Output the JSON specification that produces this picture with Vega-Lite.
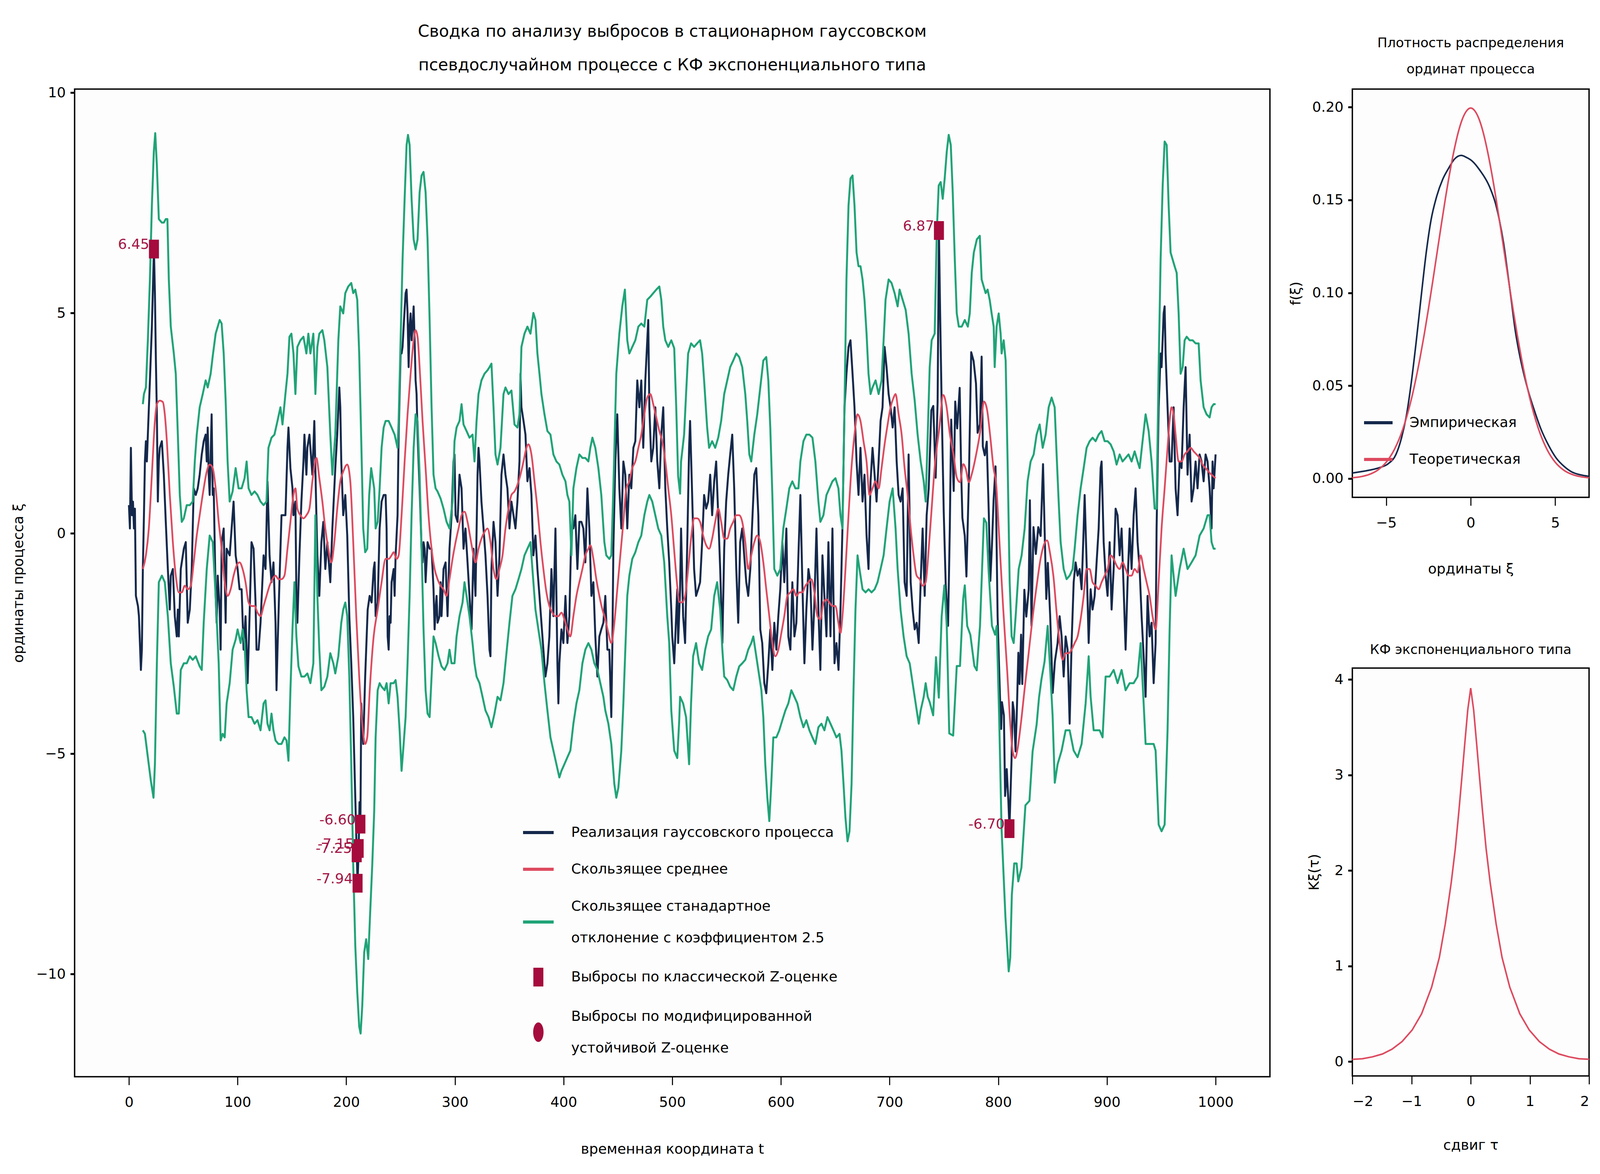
{
"$schema": "https://vega.github.io/schema/vega-lite/v6.json",
"background": "white",
"padding": {"left": 27, "top": 58, "right": 10, "bottom": 10},
"bounds": "flush",
"spacing": 211,
"config": {
"font": "DejaVu Sans",
"view": {"stroke": "black", "strokeWidth": 3.5, "fill": "#fdfdfd"},
"axis": {"domain": false, "grid": false, "ticks": true, "tickColor": "black", "labelFont": "DejaVu Sans", "labelFontSize": 36, "labelColor": "black", "titleFont": "DejaVu Sans", "titleFontSize": 36, "titleFontWeight": "normal", "titleColor": "black"},
"axisX": {"tickSize": 21, "tickWidth": 2.7, "labelPadding": 27},
"axisY": {"tickSize": 11, "tickWidth": 5, "labelPadding": 12},
"title": {"font": "DejaVu Sans", "fontWeight": "normal", "color": "black"},
"legend": {"labelFont": "DejaVu Sans", "labelColor": "black"}
},
"resolve": {"scale": {"color": "independent"}},
"datasets": {
"proc": [{"t":0,"v":0.64},{"t":0.9,"v":0.11},{"t":1.8,"v":1.94},{"t":2.8,"v":0.41},{"t":3.7,"v":0.72},{"t":4.6,"v":0.11},{"t":5.5,"v":0.56},{"t":6.4,"v":-1.42},{"t":8.3,"v":-1.65},{"t":9.2,"v":-1.88},{"t":10.1,"v":-2.49},{"t":11,"v":-3.1},{"t":11.9,"v":-2.64},{"t":12.8,"v":-0.81},{"t":13.8,"v":0.41},{"t":14.7,"v":1.63},{"t":15.6,"v":2.09},{"t":16.5,"v":1.63},{"t":17.4,"v":2.24},{"t":19.3,"v":3.47},{"t":21.1,"v":4.69},{"t":23,"v":6.45},{"t":23.9,"v":5.45},{"t":24.8,"v":3.92},{"t":25.7,"v":2.7},{"t":26.6,"v":0.72},{"t":27.5,"v":1.63},{"t":28.4,"v":1.94},{"t":30.3,"v":2.09},{"t":32.1,"v":1.33},{"t":33.9,"v":0.26},{"t":35.8,"v":-0.81},{"t":37.6,"v":-1.73},{"t":38.5,"v":-0.96},{"t":40.4,"v":-0.81},{"t":42.2,"v":-1.88},{"t":44,"v":-2.34},{"t":45,"v":-1.73},{"t":45.9,"v":-2.34},{"t":47.7,"v":-0.81},{"t":50.5,"v":-0.35},{"t":52.3,"v":-0.2},{"t":54.1,"v":-2.03},{"t":56,"v":-1.73},{"t":57.8,"v":-0.81},{"t":59.6,"v":1.02},{"t":61.5,"v":0.87},{"t":63.3,"v":1.02},{"t":65.1,"v":1.33},{"t":67,"v":1.79},{"t":68.8,"v":2.09},{"t":70.6,"v":2.24},{"t":71.6,"v":1.63},{"t":72.5,"v":2.4},{"t":73.4,"v":1.33},{"t":74.3,"v":0.87},{"t":76.1,"v":2.7},{"t":77.1,"v":0.87},{"t":78,"v":1.02},{"t":79.8,"v":-1.42},{"t":80.7,"v":-2.03},{"t":81.7,"v":-0.96},{"t":83.5,"v":-1.73},{"t":84.4,"v":-2.64},{"t":85.3,"v":-0.2},{"t":87.2,"v":0.11},{"t":89,"v":-2.03},{"t":89.9,"v":-0.35},{"t":92.7,"v":-0.5},{"t":94.5,"v":0.11},{"t":96.3,"v":0.72},{"t":98.2,"v":-0.5},{"t":100,"v":-0.81},{"t":101.8,"v":-1.27},{"t":103.7,"v":-1.27},{"t":105.5,"v":-2.64},{"t":107.3,"v":-1.88},{"t":109.2,"v":-3.4},{"t":111,"v":-1.88},{"t":112.8,"v":-0.2},{"t":114.7,"v":-0.35},{"t":116.5,"v":-1.57},{"t":117.4,"v":-2.64},{"t":119.3,"v":-2.64},{"t":121.1,"v":-2.03},{"t":123.9,"v":-0.5},{"t":125.7,"v":-0.81},{"t":127.5,"v":1.18},{"t":129.4,"v":-0.5},{"t":131.2,"v":-1.11},{"t":133,"v":-0.66},{"t":134.9,"v":-2.03},{"t":135.8,"v":-3.56},{"t":136.7,"v":-2.64},{"t":138.5,"v":-1.11},{"t":140.4,"v":0.41},{"t":142.2,"v":0.41},{"t":144,"v":0.41},{"t":145.9,"v":1.94},{"t":146.8,"v":2.4},{"t":148.6,"v":1.48},{"t":150.5,"v":1.02},{"t":151.4,"v":0.41},{"t":153.2,"v":0.72},{"t":154.1,"v":-1.42},{"t":155,"v":-2.03},{"t":156.9,"v":-0.5},{"t":158.7,"v":0.72},{"t":160.6,"v":1.63},{"t":161.5,"v":2.24},{"t":163.3,"v":1.33},{"t":164.2,"v":1.94},{"t":166.1,"v":2.24},{"t":168.8,"v":1.33},{"t":170.6,"v":2.55},{"t":172.5,"v":0.41},{"t":173.4,"v":-0.5},{"t":175.2,"v":-1.42},{"t":177.1,"v":-0.2},{"t":178.9,"v":0.26},{"t":180.7,"v":-0.81},{"t":182.6,"v":-0.2},{"t":185.3,"v":-1.11},{"t":187.2,"v":0.11},{"t":189.9,"v":1.48},{"t":191.7,"v":2.24},{"t":193.6,"v":3.31},{"t":194.5,"v":2.86},{"t":195.4,"v":1.63},{"t":197.2,"v":0.41},{"t":199.1,"v":0.87},{"t":200.9,"v":-0.05},{"t":202.8,"v":-1.88},{"t":204.6,"v":-2.95},{"t":206.4,"v":-4.17},{"t":208.3,"v":-6},{"t":209.6,"v":-7.25},{"t":210.4,"v":-7.94},{"t":211.4,"v":-7.15},{"t":212.2,"v":-6.1},{"t":213,"v":-6.6},{"t":213.8,"v":-3.86},{"t":215.6,"v":-4.78},{"t":217.4,"v":-3.25},{"t":219.7,"v":-1.73},{"t":221.5,"v":-1.42},{"t":223.3,"v":-1.57},{"t":225.2,"v":-0.81},{"t":226.1,"v":-0.66},{"t":227,"v":-1.88},{"t":228.9,"v":-1.57},{"t":230.7,"v":0.11},{"t":232.5,"v":0.72},{"t":234.4,"v":0.87},{"t":236.2,"v":0.87},{"t":237.1,"v":0.11},{"t":238.1,"v":-2.34},{"t":239,"v":-2.64},{"t":239.9,"v":-1.88},{"t":240.8,"v":-2.03},{"t":241.7,"v":-1.11},{"t":243.6,"v":-0.81},{"t":244.5,"v":-1.42},{"t":245.4,"v":-0.5},{"t":247.2,"v":0.41},{"t":248.2,"v":2.24},{"t":249.1,"v":3.16},{"t":250,"v":4.08},{"t":250.9,"v":4.08},{"t":251.8,"v":4.23},{"t":252.8,"v":4.69},{"t":254.6,"v":5.45},{"t":255.5,"v":5.53},{"t":256.4,"v":4.99},{"t":257.4,"v":3.77},{"t":258.3,"v":4.69},{"t":259.2,"v":4.99},{"t":260.1,"v":4.38},{"t":261,"v":4.69},{"t":262,"v":5.15},{"t":262.9,"v":4.38},{"t":263.8,"v":3.47},{"t":264.7,"v":3.16},{"t":265.6,"v":2.24},{"t":267.5,"v":1.02},{"t":269.3,"v":-0.35},{"t":270.2,"v":-0.66},{"t":271.1,"v":-0.2},{"t":272.1,"v":-0.35},{"t":273,"v":-1.11},{"t":274.8,"v":-0.2},{"t":276.7,"v":-0.35},{"t":278.5,"v":-0.35},{"t":280.3,"v":-1.27},{"t":281.3,"v":-2.18},{"t":282.2,"v":-1.73},{"t":283.1,"v":-1.42},{"t":284,"v":-2.03},{"t":285.8,"v":-1.88},{"t":286.8,"v":-1.11},{"t":287.7,"v":-1.88},{"t":289.5,"v":-0.81},{"t":291.4,"v":-0.66},{"t":293.2,"v":-1.88},{"t":295,"v":-0.35},{"t":296.9,"v":0.41},{"t":298.7,"v":1.63},{"t":299.6,"v":1.79},{"t":300.6,"v":0.41},{"t":302.4,"v":0.26},{"t":304.2,"v":1.33},{"t":306.1,"v":1.02},{"t":307.9,"v":-0.35},{"t":309.7,"v":0.11},{"t":311.6,"v":-0.66},{"t":313.4,"v":-1.42},{"t":315.3,"v":-2.18},{"t":317.1,"v":-0.35},{"t":318.9,"v":-1.42},{"t":320.8,"v":1.33},{"t":321.7,"v":1.94},{"t":322.6,"v":1.63},{"t":324.4,"v":0.72},{"t":326.3,"v":0.11},{"t":328.1,"v":-0.5},{"t":330,"v":-1.42},{"t":331.8,"v":-2.64},{"t":332.7,"v":-2.79},{"t":333.6,"v":-0.81},{"t":335.5,"v":0.26},{"t":337.3,"v":-0.2},{"t":339.2,"v":-1.42},{"t":341,"v":-0.5},{"t":342.8,"v":1.33},{"t":344.7,"v":1.79},{"t":346.5,"v":1.33},{"t":348.3,"v":1.02},{"t":350.2,"v":0.11},{"t":352,"v":0.72},{"t":353.9,"v":0.41},{"t":355.7,"v":0.11},{"t":357.5,"v":0.72},{"t":359.4,"v":1.63},{"t":360.3,"v":3.62},{"t":361.2,"v":2.86},{"t":363.1,"v":2.55},{"t":364.9,"v":2.24},{"t":366.7,"v":1.18},{"t":368.6,"v":1.48},{"t":370.4,"v":0.87},{"t":372.2,"v":-0.5},{"t":374.1,"v":-0.05},{"t":375.9,"v":-0.81},{"t":377.8,"v":-1.42},{"t":379.6,"v":-2.03},{"t":381.4,"v":-2.64},{"t":383.3,"v":-3.25},{"t":385.1,"v":-2.95},{"t":386.9,"v":-2.34},{"t":388.8,"v":-0.81},{"t":390.6,"v":-1.88},{"t":392.5,"v":0.11},{"t":394.3,"v":-2.95},{"t":395.2,"v":-3.86},{"t":396.1,"v":-2.95},{"t":398,"v":-2.18},{"t":399.8,"v":-2.49},{"t":401.7,"v":-1.42},{"t":403.5,"v":-2.49},{"t":405.3,"v":-1.88},{"t":407.2,"v":0.11},{"t":409,"v":0.11},{"t":410.8,"v":0.41},{"t":412.7,"v":-0.81},{"t":414.5,"v":0.26},{"t":416.4,"v":0.26},{"t":418.2,"v":0.11},{"t":420,"v":-0.66},{"t":421.9,"v":1.02},{"t":423.7,"v":0.11},{"t":425.6,"v":-1.42},{"t":427.4,"v":-1.11},{"t":429.2,"v":-2.34},{"t":431.1,"v":-3.25},{"t":432.9,"v":-2.34},{"t":434.7,"v":-2.18},{"t":436.6,"v":-2.03},{"t":438.4,"v":-1.42},{"t":440.3,"v":-2.64},{"t":442.1,"v":-2.64},{"t":443.9,"v":-4.17},{"t":444.9,"v":-2.49},{"t":445.8,"v":-0.35},{"t":447.6,"v":1.63},{"t":449.4,"v":2.7},{"t":451.3,"v":1.02},{"t":453.1,"v":0.11},{"t":455,"v":1.63},{"t":456.8,"v":1.33},{"t":458.6,"v":0.11},{"t":460.5,"v":1.33},{"t":462.3,"v":1.02},{"t":464.2,"v":1.94},{"t":466,"v":2.09},{"t":467.8,"v":3.47},{"t":468.8,"v":3.16},{"t":469.7,"v":2.86},{"t":471.5,"v":3.47},{"t":473.3,"v":1.94},{"t":475.2,"v":3.47},{"t":477,"v":4.38},{"t":477.9,"v":4.84},{"t":478.9,"v":2.86},{"t":480.7,"v":1.63},{"t":482.5,"v":1.94},{"t":484.4,"v":2.86},{"t":486.2,"v":1.63},{"t":488.1,"v":1.02},{"t":489.9,"v":2.24},{"t":491.7,"v":2.86},{"t":493.6,"v":1.02},{"t":495.4,"v":0.11},{"t":497.2,"v":-0.66},{"t":499.1,"v":-1.73},{"t":500,"v":-2.34},{"t":501.8,"v":-2.95},{"t":502.8,"v":-2.34},{"t":504.6,"v":-1.27},{"t":505.4,"v":-2.49},{"t":507.2,"v":-1.27},{"t":508.1,"v":0.11},{"t":510,"v":-1.88},{"t":511.8,"v":-2.49},{"t":513.7,"v":-0.35},{"t":515.5,"v":1.94},{"t":516.4,"v":2.55},{"t":518.3,"v":0.87},{"t":520.1,"v":-0.81},{"t":521.9,"v":-1.42},{"t":523.8,"v":-1.27},{"t":525.6,"v":-1.11},{"t":527.5,"v":-0.2},{"t":529.3,"v":0.87},{"t":531.2,"v":0.56},{"t":533,"v":0.72},{"t":534.9,"v":1.33},{"t":536.7,"v":0.41},{"t":538.6,"v":1.18},{"t":540.4,"v":1.63},{"t":542.3,"v":0.41},{"t":544.1,"v":-0.81},{"t":546.1,"v":-2.49},{"t":547.8,"v":-0.35},{"t":549.6,"v":0.72},{"t":551.5,"v":1.33},{"t":553.3,"v":1.79},{"t":555.2,"v":2.24},{"t":557,"v":1.02},{"t":558.9,"v":-0.81},{"t":560.7,"v":-2.03},{"t":562.5,"v":-0.2},{"t":564.4,"v":0.11},{"t":566.2,"v":-0.5},{"t":568.1,"v":-1.11},{"t":569.9,"v":-1.42},{"t":571.8,"v":-0.81},{"t":573.6,"v":0.26},{"t":575.5,"v":1.33},{"t":577.3,"v":1.48},{"t":579.2,"v":0.41},{"t":581,"v":-2.18},{"t":582.8,"v":-2.49},{"t":584.7,"v":-3.4},{"t":586.5,"v":-3.63},{"t":588.4,"v":-2.95},{"t":590.2,"v":-2.18},{"t":592.1,"v":-3.1},{"t":593.9,"v":-2.03},{"t":595.8,"v":-2.64},{"t":597.6,"v":-1.88},{"t":599.4,"v":-1.27},{"t":601.3,"v":-0.2},{"t":603.1,"v":-1.11},{"t":605,"v":0.11},{"t":606.8,"v":-2.34},{"t":608.7,"v":-2.64},{"t":610.5,"v":-1.11},{"t":612.4,"v":-2.34},{"t":614.2,"v":-2.03},{"t":616.1,"v":-0.5},{"t":617.9,"v":0.87},{"t":619.7,"v":-1.11},{"t":621.6,"v":-2.95},{"t":623.4,"v":-1.73},{"t":625.3,"v":-0.81},{"t":627.1,"v":-1.11},{"t":629,"v":-2.64},{"t":630.8,"v":-1.57},{"t":632.7,"v":0.11},{"t":634.5,"v":-1.73},{"t":636.3,"v":-3.1},{"t":638.2,"v":-0.5},{"t":640,"v":-1.42},{"t":641.9,"v":-2.34},{"t":643.7,"v":-0.2},{"t":645.6,"v":-2.34},{"t":647.4,"v":0.11},{"t":649.3,"v":-2.95},{"t":651.1,"v":-2.49},{"t":653,"v":-3.1},{"t":654.8,"v":-1.73},{"t":656.6,"v":0.11},{"t":658.5,"v":2.86},{"t":660.3,"v":3.62},{"t":662.2,"v":4.23},{"t":664,"v":4.38},{"t":665.9,"v":3.62},{"t":667.7,"v":2.86},{"t":669.6,"v":1.63},{"t":671.4,"v":0.87},{"t":673.2,"v":1.94},{"t":675.1,"v":0.72},{"t":676.9,"v":1.33},{"t":678.8,"v":-0.05},{"t":680.6,"v":-0.81},{"t":682.5,"v":1.18},{"t":684.3,"v":1.94},{"t":686.2,"v":1.33},{"t":688,"v":0.72},{"t":689.9,"v":1.63},{"t":691.7,"v":2.55},{"t":693.5,"v":2.86},{"t":695.4,"v":4.23},{"t":697.2,"v":3.77},{"t":699.1,"v":3.16},{"t":700.9,"v":2.86},{"t":702.8,"v":2.4},{"t":704.6,"v":2.86},{"t":706.5,"v":1.63},{"t":708.3,"v":0.87},{"t":710.1,"v":0.72},{"t":712,"v":1.02},{"t":713.8,"v":-1.11},{"t":715.7,"v":-1.42},{"t":717.5,"v":1.79},{"t":719.4,"v":-1.11},{"t":721.2,"v":-1.73},{"t":723.1,"v":-2.18},{"t":724.9,"v":-2.03},{"t":726.8,"v":-2.49},{"t":728.6,"v":-1.11},{"t":730.4,"v":0.11},{"t":732.3,"v":-1.42},{"t":734.1,"v":0.41},{"t":736,"v":1.02},{"t":738.4,"v":2.79},{"t":740.2,"v":2.89},{"t":742.4,"v":1.26},{"t":744.2,"v":3},{"t":745.4,"v":6.87},{"t":746.5,"v":5},{"t":748,"v":2.8},{"t":749.8,"v":0.5},{"t":751.7,"v":-1.2},{"t":753.8,"v":-2.1},{"t":755.4,"v":0.11},{"t":756.7,"v":2.58},{"t":759,"v":0.96},{"t":760.4,"v":2.99},{"t":762.2,"v":2.38},{"t":764.5,"v":3.3},{"t":765.9,"v":1.36},{"t":767,"v":0.35},{"t":769.2,"v":-0.06},{"t":770.7,"v":-0.98},{"t":772.9,"v":1.16},{"t":775.1,"v":4.11},{"t":777.3,"v":3.91},{"t":779.5,"v":3.4},{"t":781,"v":2.28},{"t":783.2,"v":2.48},{"t":784.7,"v":4.01},{"t":785.8,"v":1.97},{"t":787.6,"v":1.77},{"t":789.4,"v":2.08},{"t":791.3,"v":0.45},{"t":792.7,"v":-1.08},{"t":794.2,"v":-0.26},{"t":795.7,"v":0.75},{"t":797.5,"v":1.52},{"t":799.4,"v":-1.89},{"t":801.6,"v":-3.72},{"t":802.7,"v":-4.44},{"t":803.4,"v":-3.83},{"t":805.2,"v":-4.13},{"t":806.3,"v":-5.96},{"t":807.8,"v":-5.35},{"t":809.3,"v":-6.07},{"t":810.3,"v":-6.7},{"t":812.2,"v":-5.15},{"t":813.3,"v":-3.83},{"t":814.4,"v":-4.03},{"t":815.9,"v":-4.95},{"t":817,"v":-4.13},{"t":818.5,"v":-2.71},{"t":819.6,"v":-3.42},{"t":821,"v":-2.3},{"t":822.1,"v":-3.42},{"t":824,"v":-1.28},{"t":825.8,"v":-1.89},{"t":828,"v":-1.28},{"t":829.1,"v":0.75},{"t":830.6,"v":-2.1},{"t":832.4,"v":0.14},{"t":834.6,"v":-0.47},{"t":836.8,"v":0.14},{"t":839,"v":-0.06},{"t":841.2,"v":1.57},{"t":843.1,"v":-0.37},{"t":844.2,"v":-1.49},{"t":845.6,"v":-0.67},{"t":847.8,"v":-1.89},{"t":850.1,"v":-3.62},{"t":852.1,"v":-2.91},{"t":854.6,"v":-2.49},{"t":856.5,"v":-1.88},{"t":858.3,"v":-2.34},{"t":860.2,"v":-3.25},{"t":862,"v":-2.34},{"t":863.8,"v":-2.64},{"t":865.7,"v":-4.32},{"t":867.5,"v":-2.49},{"t":869.4,"v":-1.11},{"t":871.2,"v":-0.66},{"t":873,"v":-0.96},{"t":874.9,"v":-0.81},{"t":876.7,"v":-1.27},{"t":878.6,"v":0.11},{"t":879.5,"v":0.87},{"t":881.3,"v":-0.66},{"t":883.2,"v":-2.49},{"t":885,"v":-1.27},{"t":886.8,"v":-1.73},{"t":888.7,"v":-1.42},{"t":890.5,"v":-0.66},{"t":892.4,"v":0.11},{"t":894.2,"v":1.48},{"t":895.1,"v":1.63},{"t":897,"v":-0.2},{"t":898.8,"v":-0.96},{"t":900.6,"v":-1.42},{"t":902.5,"v":-0.2},{"t":904.3,"v":-1.73},{"t":906.2,"v":-0.81},{"t":908,"v":0.56},{"t":909.8,"v":0.41},{"t":911.7,"v":-0.5},{"t":913.5,"v":0.11},{"t":915.4,"v":-1.27},{"t":917.2,"v":-2.64},{"t":919,"v":-1.11},{"t":920.9,"v":0.11},{"t":922.7,"v":-0.81},{"t":924.6,"v":0.41},{"t":926.4,"v":1.02},{"t":928.2,"v":-0.2},{"t":930.1,"v":-0.81},{"t":931.9,"v":-1.88},{"t":933.8,"v":-2.79},{"t":935.6,"v":-3.71},{"t":937.4,"v":-1.42},{"t":939.3,"v":-2.34},{"t":941.1,"v":-2.03},{"t":943,"v":-3.4},{"t":944.8,"v":-2.49},{"t":945.7,"v":0.11},{"t":947.6,"v":2.86},{"t":949.4,"v":4.08},{"t":950.3,"v":3.77},{"t":952.2,"v":4.99},{"t":953.1,"v":5.15},{"t":954,"v":4.08},{"t":955.8,"v":2.86},{"t":957.7,"v":1.63},{"t":959.5,"v":1.63},{"t":961.4,"v":2.86},{"t":963.2,"v":1.02},{"t":965,"v":0.41},{"t":966.9,"v":1.63},{"t":968.7,"v":1.48},{"t":970.6,"v":2.86},{"t":972.4,"v":3.77},{"t":974.2,"v":1.33},{"t":976.1,"v":2.24},{"t":977.9,"v":0.72},{"t":979.8,"v":1.02},{"t":981.6,"v":1.63},{"t":983.4,"v":1.02},{"t":985.3,"v":1.79},{"t":987.1,"v":1.63},{"t":989,"v":1.18},{"t":990.8,"v":1.79},{"t":992.6,"v":1.63},{"t":994.5,"v":1.02},{"t":996.3,"v":0.11},{"t":997.2,"v":1.63},{"t":998.2,"v":1.02},{"t":1000,"v":1.79}],
"mean": [{"t":12.8,"v":-0.81},{"t":15.6,"v":-0.5},{"t":18.3,"v":0.11},{"t":21.1,"v":1.33},{"t":23.9,"v":2.55},{"t":25.7,"v":2.93},{"t":28.4,"v":3.01},{"t":31.2,"v":2.98},{"t":33,"v":2.7},{"t":34.9,"v":2.09},{"t":37.6,"v":0.87},{"t":40.4,"v":-0.2},{"t":43.1,"v":-0.96},{"t":45.9,"v":-1.34},{"t":48.6,"v":-1.34},{"t":51.4,"v":-1.19},{"t":54.1,"v":-1.27},{"t":56.9,"v":-1.19},{"t":59.6,"v":-0.66},{"t":62.4,"v":-0.05},{"t":65.1,"v":0.41},{"t":68.8,"v":1.02},{"t":71.6,"v":1.4},{"t":74.3,"v":1.56},{"t":77.1,"v":1.48},{"t":79.8,"v":1.02},{"t":82.6,"v":0.26},{"t":85.3,"v":-0.35},{"t":88.1,"v":-1.11},{"t":90.8,"v":-1.42},{"t":93.6,"v":-1.27},{"t":96.3,"v":-0.96},{"t":99.1,"v":-0.73},{"t":101.8,"v":-0.66},{"t":104.6,"v":-0.81},{"t":107.3,"v":-1.11},{"t":110.1,"v":-1.57},{"t":112.8,"v":-1.65},{"t":115.6,"v":-1.65},{"t":118.3,"v":-1.8},{"t":121.1,"v":-1.88},{"t":123.9,"v":-1.65},{"t":126.6,"v":-1.42},{"t":129.4,"v":-1.19},{"t":132.1,"v":-1.04},{"t":134.9,"v":-0.96},{"t":137.6,"v":-1.04},{"t":140.4,"v":-1.04},{"t":143.1,"v":-0.96},{"t":145.9,"v":-0.35},{"t":148.6,"v":0.26},{"t":151.4,"v":0.87},{"t":153.2,"v":1.02},{"t":155,"v":0.56},{"t":157.8,"v":0.41},{"t":160.6,"v":0.34},{"t":163.3,"v":0.41},{"t":166.1,"v":0.56},{"t":168.8,"v":1.18},{"t":172.5,"v":1.71},{"t":175.2,"v":1.25},{"t":178,"v":0.72},{"t":180.7,"v":0.11},{"t":183.5,"v":-0.35},{"t":186.2,"v":-0.66},{"t":189,"v":-0.2},{"t":191.7,"v":0.56},{"t":194.5,"v":1.18},{"t":197.2,"v":1.4},{"t":200.9,"v":1.56},{"t":203.7,"v":1.18},{"t":206.4,"v":-0.2},{"t":209.2,"v":-1.88},{"t":211.9,"v":-3.25},{"t":214.7,"v":-4.32},{"t":217.4,"v":-4.78},{"t":219.3,"v":-4.63},{"t":221.5,"v":-3.6},{"t":225.2,"v":-2.34},{"t":228.9,"v":-1.73},{"t":232.5,"v":-1.11},{"t":236.2,"v":-0.58},{"t":239,"v":-0.58},{"t":241.7,"v":-0.5},{"t":243.6,"v":-0.43},{"t":246.3,"v":-0.58},{"t":248.2,"v":-0.5},{"t":250.9,"v":0.41},{"t":253.7,"v":1.63},{"t":256.4,"v":2.7},{"t":259.2,"v":3.62},{"t":262,"v":4.38},{"t":263.8,"v":4.61},{"t":265.6,"v":4.46},{"t":267.5,"v":3.77},{"t":270.2,"v":2.55},{"t":273,"v":1.48},{"t":275.7,"v":0.41},{"t":278.5,"v":-0.35},{"t":281.3,"v":-0.81},{"t":284,"v":-1.04},{"t":286.8,"v":-1.19},{"t":289.5,"v":-1.27},{"t":292.3,"v":-1.42},{"t":295,"v":-1.04},{"t":297.8,"v":-0.58},{"t":300.6,"v":-0.2},{"t":303.3,"v":0.11},{"t":306.1,"v":0.41},{"t":308.8,"v":0.49},{"t":311.6,"v":0.26},{"t":314.3,"v":-0.12},{"t":317.1,"v":-0.5},{"t":318.9,"v":-0.66},{"t":321.7,"v":-0.35},{"t":324.4,"v":-0.12},{"t":327.2,"v":0.03},{"t":330,"v":0.11},{"t":332.7,"v":-0.2},{"t":335.5,"v":-0.81},{"t":338.2,"v":-1.04},{"t":341,"v":-0.81},{"t":343.8,"v":-0.5},{"t":346.5,"v":0.11},{"t":349.3,"v":0.56},{"t":352,"v":0.87},{"t":354.8,"v":0.95},{"t":357.5,"v":1.1},{"t":360.3,"v":1.33},{"t":363.1,"v":1.63},{"t":365.8,"v":1.94},{"t":367.6,"v":2.02},{"t":370.4,"v":1.79},{"t":373.2,"v":1.18},{"t":375.9,"v":0.56},{"t":378.7,"v":-0.2},{"t":381.4,"v":-0.81},{"t":384.2,"v":-1.34},{"t":386.9,"v":-1.65},{"t":389.7,"v":-1.8},{"t":392.5,"v":-1.88},{"t":395.2,"v":-1.88},{"t":398,"v":-1.8},{"t":400.7,"v":-1.95},{"t":403.5,"v":-2.18},{"t":406.2,"v":-2.34},{"t":409,"v":-1.88},{"t":411.8,"v":-1.42},{"t":414.5,"v":-1.11},{"t":417.3,"v":-0.81},{"t":420,"v":-0.5},{"t":422.8,"v":-0.35},{"t":424.6,"v":-0.27},{"t":427.4,"v":-0.58},{"t":430.1,"v":-1.04},{"t":432.9,"v":-1.42},{"t":435.7,"v":-1.73},{"t":438.4,"v":-1.95},{"t":441.2,"v":-2.26},{"t":443.9,"v":-2.49},{"t":446.7,"v":-2.03},{"t":449.4,"v":-1.27},{"t":452.2,"v":-0.5},{"t":455,"v":0.26},{"t":457.7,"v":1.02},{"t":460.5,"v":1.18},{"t":463.2,"v":1.48},{"t":466,"v":1.63},{"t":468.8,"v":1.94},{"t":471.5,"v":2.24},{"t":474.3,"v":2.7},{"t":477,"v":3.08},{"t":479.8,"v":3.16},{"t":482.5,"v":2.93},{"t":485.3,"v":2.63},{"t":488.1,"v":2.32},{"t":490.8,"v":2.09},{"t":493.6,"v":1.63},{"t":496.3,"v":1.02},{"t":499.1,"v":0.41},{"t":501.8,"v":-0.4},{"t":504.6,"v":-1.2},{"t":506.3,"v":-1.55},{"t":509,"v":-1.57},{"t":511.8,"v":-1.42},{"t":514.6,"v":-0.81},{"t":517.3,"v":-0.12},{"t":520.1,"v":0.34},{"t":522.9,"v":0.34},{"t":525.6,"v":0.26},{"t":528.4,"v":-0.05},{"t":531.2,"v":-0.27},{"t":533.9,"v":-0.35},{"t":536.7,"v":-0.12},{"t":539.5,"v":0.26},{"t":542.3,"v":0.56},{"t":545,"v":0.26},{"t":547.8,"v":-0.12},{"t":550.6,"v":-0.12},{"t":553.3,"v":0.11},{"t":556.1,"v":0.26},{"t":558.9,"v":0.41},{"t":561.6,"v":0.41},{"t":564.4,"v":0.26},{"t":567.2,"v":-0.2},{"t":569.9,"v":-0.81},{"t":572.7,"v":-0.5},{"t":575.5,"v":-0.2},{"t":578.2,"v":-0.05},{"t":581,"v":-0.2},{"t":583.8,"v":-0.66},{"t":586.5,"v":-1.27},{"t":589.3,"v":-1.88},{"t":592.1,"v":-2.49},{"t":594.8,"v":-2.79},{"t":597.6,"v":-2.64},{"t":600.4,"v":-2.26},{"t":603.1,"v":-1.88},{"t":605.9,"v":-1.42},{"t":608.7,"v":-1.34},{"t":611.4,"v":-1.27},{"t":614.2,"v":-1.42},{"t":617,"v":-1.34},{"t":619.7,"v":-1.34},{"t":622.5,"v":-1.19},{"t":625.3,"v":-1.11},{"t":628,"v":-1.04},{"t":630.8,"v":-1.34},{"t":633.6,"v":-1.88},{"t":636.3,"v":-1.95},{"t":639.1,"v":-1.57},{"t":641.9,"v":-1.5},{"t":644.6,"v":-1.57},{"t":647.4,"v":-1.65},{"t":650.2,"v":-1.65},{"t":652.9,"v":-2.03},{"t":654.8,"v":-2.26},{"t":656.6,"v":-1.88},{"t":659.4,"v":-0.81},{"t":662.2,"v":0.41},{"t":664.9,"v":1.48},{"t":667.7,"v":2.24},{"t":670.5,"v":2.7},{"t":673.2,"v":2.55},{"t":676,"v":2.09},{"t":678.8,"v":1.63},{"t":681.5,"v":0.87},{"t":684.3,"v":1.02},{"t":687.1,"v":1.18},{"t":689.9,"v":1.02},{"t":692.6,"v":1.48},{"t":695.4,"v":2.02},{"t":698.2,"v":2.47},{"t":700.9,"v":2.86},{"t":703.7,"v":3.08},{"t":705.5,"v":3.16},{"t":708.3,"v":2.7},{"t":711.1,"v":2.24},{"t":713.8,"v":1.48},{"t":716.6,"v":0.87},{"t":719.4,"v":0.11},{"t":722.1,"v":-0.5},{"t":724.9,"v":-0.96},{"t":727.7,"v":-1.04},{"t":730.4,"v":-1.19},{"t":733.2,"v":-1.11},{"t":736,"v":-0.35},{"t":738.7,"v":0.56},{"t":741.5,"v":1.5},{"t":745.7,"v":2.38},{"t":749.4,"v":3.14},{"t":752.3,"v":2.89},{"t":755.3,"v":2.28},{"t":758.9,"v":1.77},{"t":761.9,"v":1.26},{"t":764.8,"v":1.16},{"t":767.8,"v":1.57},{"t":770,"v":1.47},{"t":772.9,"v":1.16},{"t":775.8,"v":1.36},{"t":779.5,"v":1.77},{"t":783.2,"v":2.28},{"t":786.9,"v":2.99},{"t":789.8,"v":2.79},{"t":792.7,"v":2.18},{"t":795.7,"v":1.47},{"t":797.9,"v":1.16},{"t":800.8,"v":-0.06},{"t":804.5,"v":-1.69},{"t":808.2,"v":-3.11},{"t":811.1,"v":-4.34},{"t":813.3,"v":-4.95},{"t":815.5,"v":-5.1},{"t":817.7,"v":-4.9},{"t":820.7,"v":-4.34},{"t":824.3,"v":-3.52},{"t":828,"v":-2.71},{"t":831.7,"v":-1.89},{"t":835.4,"v":-1.18},{"t":839,"v":-0.57},{"t":842,"v":-0.26},{"t":844.9,"v":-0.16},{"t":847.8,"v":-0.47},{"t":850.8,"v":-0.98},{"t":853.7,"v":-1.8},{"t":856.5,"v":-2.49},{"t":859.2,"v":-2.87},{"t":862,"v":-2.72},{"t":864.8,"v":-2.72},{"t":867.5,"v":-2.64},{"t":870.3,"v":-2.49},{"t":873,"v":-2.34},{"t":875.8,"v":-1.95},{"t":878.6,"v":-1.42},{"t":881.3,"v":-0.81},{"t":884.1,"v":-0.81},{"t":886.8,"v":-1.11},{"t":889.6,"v":-1.19},{"t":892.4,"v":-1.27},{"t":895.1,"v":-1.11},{"t":897.9,"v":-0.96},{"t":900.6,"v":-0.81},{"t":903.4,"v":-0.5},{"t":906.2,"v":-0.58},{"t":908.9,"v":-0.73},{"t":911.7,"v":-0.81},{"t":914.4,"v":-0.66},{"t":917.2,"v":-0.81},{"t":919.9,"v":-0.96},{"t":922.7,"v":-0.96},{"t":925.5,"v":-0.81},{"t":928.2,"v":-0.89},{"t":931,"v":-0.5},{"t":933.8,"v":-0.81},{"t":936.5,"v":-1.11},{"t":939.3,"v":-1.42},{"t":942,"v":-1.88},{"t":944.8,"v":-2.18},{"t":947.6,"v":-1.11},{"t":950.3,"v":0.11},{"t":953.1,"v":1.02},{"t":955.8,"v":1.94},{"t":957.7,"v":2.55},{"t":959.5,"v":2.86},{"t":961.4,"v":2.7},{"t":963.2,"v":2.24},{"t":966,"v":1.63},{"t":968.7,"v":1.63},{"t":971.5,"v":1.79},{"t":974.2,"v":1.86},{"t":977,"v":1.94},{"t":979.8,"v":1.86},{"t":982.5,"v":1.79},{"t":985.3,"v":1.71},{"t":988,"v":1.56},{"t":990.8,"v":1.48},{"t":993.5,"v":1.4},{"t":996.3,"v":1.33},{"t":1000,"v":1.25}],
"up": [{"t":12.8,"v":2.93},{"t":13.8,"v":3.16},{"t":15.6,"v":3.31},{"t":17.4,"v":4.38},{"t":19.3,"v":5.76},{"t":21.1,"v":7.44},{"t":22.9,"v":8.66},{"t":24.2,"v":9.08},{"t":25.7,"v":8.35},{"t":27.5,"v":7.13},{"t":30.3,"v":7.05},{"t":32.1,"v":7.05},{"t":33.9,"v":7.13},{"t":35.4,"v":7.13},{"t":36.7,"v":5.76},{"t":38.5,"v":4.69},{"t":41.3,"v":4.08},{"t":43.1,"v":3.62},{"t":45,"v":2.24},{"t":46.8,"v":0.87},{"t":48.6,"v":0.26},{"t":50.5,"v":0.34},{"t":53.2,"v":0.64},{"t":56,"v":0.64},{"t":58.7,"v":0.72},{"t":60.6,"v":1.63},{"t":62.4,"v":2.24},{"t":65.1,"v":2.86},{"t":67.9,"v":3.16},{"t":70.6,"v":3.47},{"t":72.5,"v":3.31},{"t":75.2,"v":3.62},{"t":77.1,"v":4.02},{"t":79.8,"v":4.53},{"t":83.5,"v":4.84},{"t":85.3,"v":4.76},{"t":87.2,"v":4.08},{"t":89,"v":3.01},{"t":90.8,"v":1.63},{"t":92.7,"v":0.72},{"t":95.4,"v":0.95},{"t":98.2,"v":1.48},{"t":100.9,"v":1.02},{"t":103.7,"v":1.02},{"t":106.4,"v":1.25},{"t":108.3,"v":1.63},{"t":110.1,"v":1.02},{"t":112.8,"v":0.87},{"t":115.6,"v":0.95},{"t":118.3,"v":0.87},{"t":121.1,"v":0.72},{"t":123.9,"v":0.64},{"t":126.6,"v":0.72},{"t":128.4,"v":1.94},{"t":131.2,"v":2.17},{"t":133.9,"v":2.24},{"t":136.7,"v":2.55},{"t":139.4,"v":2.86},{"t":141.3,"v":2.47},{"t":144,"v":3.16},{"t":145.9,"v":3.62},{"t":147.7,"v":4.46},{"t":149.5,"v":4.53},{"t":151.4,"v":4.08},{"t":153.2,"v":3.16},{"t":155,"v":4.23},{"t":157.8,"v":4.38},{"t":160.6,"v":4.46},{"t":163.3,"v":4.08},{"t":165.1,"v":4.53},{"t":167,"v":4.08},{"t":169.7,"v":4.53},{"t":171.6,"v":3.16},{"t":173.4,"v":4.23},{"t":175.2,"v":4.53},{"t":178,"v":4.61},{"t":179.8,"v":4.38},{"t":182.6,"v":3.77},{"t":185.3,"v":2.24},{"t":187.2,"v":1.33},{"t":189.9,"v":2.24},{"t":192.7,"v":4.38},{"t":194.5,"v":5.15},{"t":197.2,"v":4.99},{"t":199.1,"v":5.45},{"t":201.8,"v":5.6},{"t":204.6,"v":5.68},{"t":206.4,"v":5.45},{"t":208.3,"v":5.53},{"t":210.1,"v":5.3},{"t":211.9,"v":4.08},{"t":213.8,"v":2.09},{"t":215.6,"v":0.11},{"t":217.4,"v":-0.43},{"t":219.3,"v":-0.35},{"t":221.1,"v":0.87},{"t":222.9,"v":1.48},{"t":225.7,"v":1.02},{"t":227,"v":0.11},{"t":228.9,"v":0.26},{"t":230.7,"v":1.02},{"t":232.5,"v":1.94},{"t":234.4,"v":2.4},{"t":236.2,"v":2.55},{"t":239,"v":2.55},{"t":241.7,"v":2.4},{"t":244.5,"v":2.24},{"t":247.2,"v":1.94},{"t":248.2,"v":2.55},{"t":250,"v":4.38},{"t":251.8,"v":6.21},{"t":253.7,"v":7.59},{"t":255.5,"v":8.81},{"t":256.8,"v":9.04},{"t":258.3,"v":8.81},{"t":260.1,"v":7.59},{"t":262,"v":6.67},{"t":263.8,"v":6.44},{"t":265.6,"v":6.67},{"t":267.5,"v":7.74},{"t":269.3,"v":8.12},{"t":271.1,"v":8.2},{"t":273,"v":7.74},{"t":274.8,"v":6.67},{"t":276.7,"v":4.84},{"t":278.5,"v":2.86},{"t":280.3,"v":1.33},{"t":282.2,"v":1.02},{"t":284,"v":0.95},{"t":286.8,"v":0.79},{"t":289.5,"v":0.56},{"t":292.3,"v":0.26},{"t":295,"v":0.11},{"t":297.8,"v":0.72},{"t":299.6,"v":2.09},{"t":301.5,"v":2.4},{"t":304.2,"v":2.55},{"t":306.1,"v":2.93},{"t":307.9,"v":2.47},{"t":310.7,"v":2.32},{"t":313.4,"v":2.17},{"t":316.2,"v":2.24},{"t":318,"v":1.63},{"t":319.9,"v":2.55},{"t":321.7,"v":3.16},{"t":324.4,"v":3.47},{"t":327.2,"v":3.62},{"t":330,"v":3.7},{"t":331.8,"v":3.77},{"t":333.6,"v":3.85},{"t":335.5,"v":2.86},{"t":337.3,"v":1.79},{"t":339.2,"v":1.56},{"t":341.9,"v":1.94},{"t":344.7,"v":3.16},{"t":346.5,"v":3.31},{"t":349.3,"v":3.16},{"t":352,"v":3.24},{"t":354.8,"v":2.47},{"t":357.5,"v":2.4},{"t":359.4,"v":2.7},{"t":361.2,"v":4.23},{"t":364,"v":4.53},{"t":366.7,"v":4.69},{"t":369.5,"v":4.53},{"t":372.2,"v":5},{"t":374.1,"v":4.84},{"t":375.9,"v":4.08},{"t":377.8,"v":3.62},{"t":379.6,"v":3.16},{"t":382.4,"v":2.7},{"t":385.1,"v":2.32},{"t":387.9,"v":2.24},{"t":390.6,"v":1.79},{"t":393.4,"v":1.63},{"t":396.1,"v":1.56},{"t":398.9,"v":1.33},{"t":401.7,"v":1.18},{"t":403.5,"v":0.87},{"t":405.3,"v":0.72},{"t":407.2,"v":-0.5},{"t":409,"v":1.02},{"t":411.8,"v":1.48},{"t":414.5,"v":1.79},{"t":417.3,"v":1.71},{"t":420,"v":1.71},{"t":422.8,"v":1.63},{"t":424.6,"v":1.94},{"t":426.5,"v":2.17},{"t":429.2,"v":1.94},{"t":432,"v":1.48},{"t":434.7,"v":0.87},{"t":437.5,"v":-0.2},{"t":439.3,"v":-0.5},{"t":442.1,"v":-0.58},{"t":443.9,"v":-0.5},{"t":445.8,"v":1.02},{"t":448.5,"v":3.62},{"t":451.3,"v":4.53},{"t":454,"v":5.15},{"t":456.4,"v":5.53},{"t":458.6,"v":4.38},{"t":460.5,"v":4.08},{"t":463.2,"v":4.23},{"t":466,"v":4.38},{"t":468.8,"v":4.69},{"t":471.5,"v":4.76},{"t":474.3,"v":4.69},{"t":477,"v":5.3},{"t":479.8,"v":5.37},{"t":482.5,"v":5.45},{"t":485.3,"v":5.53},{"t":488.1,"v":5.6},{"t":489.9,"v":5.3},{"t":491.7,"v":4.69},{"t":493.6,"v":4.38},{"t":496.3,"v":4.23},{"t":499.1,"v":4.38},{"t":501.8,"v":4.2},{"t":503.6,"v":2.9},{"t":505.4,"v":1.3},{"t":507.2,"v":0.9},{"t":508.1,"v":1.63},{"t":510.9,"v":2.24},{"t":512.7,"v":3.16},{"t":514.6,"v":4.08},{"t":517.3,"v":4.31},{"t":520.1,"v":4.23},{"t":522.9,"v":4.31},{"t":525.6,"v":4.38},{"t":527.5,"v":4.08},{"t":529.3,"v":3.47},{"t":532.1,"v":2.4},{"t":533.9,"v":1.94},{"t":536.7,"v":2.09},{"t":539.5,"v":1.94},{"t":542.3,"v":2.17},{"t":545,"v":2.55},{"t":547.8,"v":3.16},{"t":550.6,"v":3.47},{"t":553.3,"v":3.77},{"t":556.1,"v":3.92},{"t":558.9,"v":4.08},{"t":561.6,"v":4},{"t":564.4,"v":3.77},{"t":567.2,"v":3.16},{"t":569,"v":2.55},{"t":570.9,"v":1.79},{"t":572.7,"v":1.63},{"t":575.5,"v":2.24},{"t":578.2,"v":2.7},{"t":581,"v":3.31},{"t":583.8,"v":3.92},{"t":586.5,"v":4},{"t":588.4,"v":3.47},{"t":590.2,"v":2.4},{"t":592.1,"v":0.87},{"t":593.9,"v":-0.81},{"t":596.7,"v":-0.96},{"t":599.4,"v":-0.81},{"t":602.2,"v":0.11},{"t":605,"v":0.56},{"t":607.7,"v":1.02},{"t":610.5,"v":1.18},{"t":613.3,"v":1.02},{"t":616.1,"v":1.02},{"t":617.9,"v":1.63},{"t":620.7,"v":2.09},{"t":623.4,"v":2.24},{"t":626.2,"v":2.24},{"t":629,"v":2.17},{"t":631.7,"v":1.63},{"t":634.5,"v":0.72},{"t":636.3,"v":0.26},{"t":639.1,"v":0.41},{"t":641.9,"v":0.87},{"t":644.6,"v":1.02},{"t":647.4,"v":1.18},{"t":650.2,"v":1.25},{"t":652.9,"v":1.02},{"t":654.8,"v":0.41},{"t":656.6,"v":0.11},{"t":658.5,"v":2.86},{"t":660.3,"v":5.76},{"t":662.2,"v":7.44},{"t":664,"v":8.05},{"t":665.9,"v":8.12},{"t":667.7,"v":7.44},{"t":669.6,"v":6.37},{"t":671.4,"v":6.06},{"t":673.2,"v":6.06},{"t":675.1,"v":5.76},{"t":676.9,"v":5.3},{"t":678.8,"v":4.53},{"t":680.6,"v":3.62},{"t":682.5,"v":3.16},{"t":684.3,"v":3.31},{"t":687.1,"v":3.47},{"t":689.9,"v":3.16},{"t":692.6,"v":3.47},{"t":694.5,"v":4.38},{"t":696.3,"v":5.3},{"t":699.1,"v":5.76},{"t":701.8,"v":5.68},{"t":704.6,"v":5.45},{"t":707.4,"v":5.15},{"t":709.2,"v":5.53},{"t":712,"v":5.3},{"t":714.8,"v":5.07},{"t":717.5,"v":4.53},{"t":720.3,"v":3.62},{"t":723.1,"v":3.01},{"t":725.8,"v":2.24},{"t":728.6,"v":1.63},{"t":731.4,"v":1.18},{"t":733.2,"v":0.72},{"t":735.1,"v":2.24},{"t":736.9,"v":3.77},{"t":738.7,"v":4.38},{"t":741.5,"v":4.53},{"t":743.4,"v":6.82},{"t":745.2,"v":7.89},{"t":747,"v":7.97},{"t":748.9,"v":7.59},{"t":750.7,"v":8.05},{"t":752.6,"v":8.66},{"t":754.4,"v":9.04},{"t":756.3,"v":8.81},{"t":758.1,"v":7.74},{"t":760,"v":6.21},{"t":761.8,"v":4.99},{"t":763.7,"v":4.69},{"t":766.4,"v":4.69},{"t":769.2,"v":4.84},{"t":772,"v":4.69},{"t":773.8,"v":4.99},{"t":775.6,"v":5.91},{"t":777.5,"v":6.37},{"t":780.3,"v":6.67},{"t":783,"v":6.75},{"t":784.7,"v":5.76},{"t":786.6,"v":5.6},{"t":788.4,"v":5.45},{"t":790.2,"v":5.53},{"t":792.1,"v":5.3},{"t":793.9,"v":4.99},{"t":795.8,"v":4.69},{"t":796.7,"v":3.77},{"t":798.5,"v":4.69},{"t":800.4,"v":4.99},{"t":802.2,"v":4.53},{"t":803.1,"v":4.08},{"t":805,"v":4.38},{"t":806.8,"v":3.92},{"t":808.6,"v":1.63},{"t":810.5,"v":-1.11},{"t":812.3,"v":-2.34},{"t":814.2,"v":-2.49},{"t":816,"v":-1.88},{"t":818.8,"v":-0.81},{"t":821.5,"v":-0.5},{"t":824.3,"v":0.11},{"t":827,"v":1.18},{"t":829.8,"v":1.63},{"t":832.6,"v":1.79},{"t":835.3,"v":2.24},{"t":838.1,"v":2.47},{"t":840.9,"v":1.94},{"t":843.6,"v":2.24},{"t":846.4,"v":2.86},{"t":849.1,"v":3.08},{"t":851.9,"v":2.86},{"t":853.7,"v":1.79},{"t":855.6,"v":0.72},{"t":857.4,"v":-0.2},{"t":860.2,"v":-0.81},{"t":862.9,"v":-1.04},{"t":865.7,"v":-0.96},{"t":868.4,"v":-0.81},{"t":870.3,"v":-0.35},{"t":873,"v":0.41},{"t":875.8,"v":1.02},{"t":878.6,"v":1.48},{"t":881.3,"v":1.94},{"t":884.1,"v":2.09},{"t":886.8,"v":2.17},{"t":889.6,"v":2.09},{"t":892.4,"v":2.24},{"t":895.1,"v":2.32},{"t":897.9,"v":2.09},{"t":900.6,"v":2.09},{"t":903.4,"v":2.02},{"t":906.2,"v":1.86},{"t":908.9,"v":1.56},{"t":911.7,"v":1.79},{"t":914.4,"v":1.63},{"t":917.2,"v":1.71},{"t":919.9,"v":1.79},{"t":922.7,"v":1.63},{"t":925.5,"v":1.86},{"t":928.2,"v":1.63},{"t":930.1,"v":1.48},{"t":932.8,"v":2.09},{"t":935.6,"v":2.7},{"t":938.4,"v":2.32},{"t":941.1,"v":1.63},{"t":943.9,"v":0.56},{"t":945.7,"v":0.56},{"t":947.6,"v":3.77},{"t":949.4,"v":6.21},{"t":951.3,"v":7.89},{"t":953.1,"v":8.89},{"t":955,"v":8.81},{"t":956.8,"v":7.44},{"t":958.6,"v":6.37},{"t":960.5,"v":6.21},{"t":962.3,"v":6.06},{"t":964.2,"v":5.91},{"t":966,"v":4.99},{"t":967.8,"v":3.62},{"t":969.7,"v":3.77},{"t":971.5,"v":4.38},{"t":973.4,"v":4.46},{"t":976.1,"v":4.38},{"t":978.9,"v":4.38},{"t":981.6,"v":4.31},{"t":984.4,"v":4.31},{"t":986.2,"v":3.47},{"t":989,"v":2.86},{"t":991.7,"v":2.7},{"t":994.5,"v":2.63},{"t":996.3,"v":2.86},{"t":998.2,"v":2.93},{"t":1000,"v":2.93}],
"low": [{"t":12.8,"v":-4.47},{"t":14.7,"v":-4.55},{"t":17.4,"v":-5.08},{"t":20.2,"v":-5.62},{"t":22.6,"v":-6},{"t":23.9,"v":-5.24},{"t":25.7,"v":-2.95},{"t":27.5,"v":-1.11},{"t":30.3,"v":-0.96},{"t":33,"v":-1.11},{"t":35.8,"v":-1.88},{"t":38.5,"v":-2.95},{"t":41.3,"v":-3.48},{"t":44,"v":-4.09},{"t":45.9,"v":-4.09},{"t":47.7,"v":-3.1},{"t":50.5,"v":-2.95},{"t":53.2,"v":-2.95},{"t":56,"v":-2.79},{"t":58.7,"v":-2.87},{"t":61.5,"v":-2.79},{"t":65.1,"v":-3.02},{"t":67,"v":-3.1},{"t":68.8,"v":-2.03},{"t":71.6,"v":-0.81},{"t":74.3,"v":-0.05},{"t":77.1,"v":-0.2},{"t":79.8,"v":-1.42},{"t":82.6,"v":-2.95},{"t":84.4,"v":-4.7},{"t":86.2,"v":-4.55},{"t":88.1,"v":-4.63},{"t":89.9,"v":-3.86},{"t":92.7,"v":-3.4},{"t":95.4,"v":-2.64},{"t":98.2,"v":-2.41},{"t":100,"v":-2.18},{"t":102.8,"v":-2.49},{"t":104.6,"v":-2.18},{"t":106.4,"v":-2.49},{"t":108.3,"v":-3.56},{"t":110.1,"v":-4.17},{"t":112.8,"v":-4.17},{"t":115.6,"v":-4.32},{"t":118.3,"v":-4.24},{"t":121.1,"v":-4.47},{"t":123.9,"v":-3.86},{"t":125.7,"v":-3.79},{"t":127.5,"v":-4.32},{"t":129.4,"v":-4.47},{"t":131.2,"v":-4.09},{"t":133,"v":-4.47},{"t":134.9,"v":-4.7},{"t":137.6,"v":-4.78},{"t":140.4,"v":-4.78},{"t":143.1,"v":-4.63},{"t":145,"v":-4.7},{"t":146.8,"v":-5.16},{"t":148.6,"v":-3.56},{"t":150.5,"v":-2.18},{"t":152.3,"v":-1.11},{"t":154.1,"v":-2.34},{"t":156,"v":-3.02},{"t":158.7,"v":-3.25},{"t":161.5,"v":-3.25},{"t":164.2,"v":-3.18},{"t":167,"v":-3.4},{"t":169.7,"v":-2.95},{"t":171.6,"v":0.41},{"t":173.4,"v":-1.42},{"t":175.2,"v":-2.64},{"t":177.1,"v":-3.56},{"t":179.8,"v":-3.48},{"t":182.6,"v":-3.25},{"t":185.3,"v":-2.72},{"t":188.1,"v":-2.95},{"t":189.9,"v":-3.18},{"t":192.7,"v":-2.79},{"t":195.4,"v":-2.03},{"t":197.2,"v":-1.73},{"t":199.1,"v":-1.57},{"t":200.9,"v":-1.88},{"t":202.8,"v":-3.25},{"t":204.6,"v":-5.24},{"t":206.4,"v":-7.53},{"t":208.3,"v":-9.36},{"t":210.1,"v":-10.4},{"t":211.9,"v":-11.19},{"t":213.2,"v":-11.35},{"t":214.7,"v":-10.73},{"t":216.5,"v":-9.51},{"t":218.3,"v":-9.21},{"t":220.2,"v":-9.66},{"t":222,"v":-8.6},{"t":223.9,"v":-7.53},{"t":225.7,"v":-6.31},{"t":227,"v":-4.63},{"t":228.9,"v":-3.56},{"t":230.7,"v":-3.4},{"t":232.5,"v":-3.48},{"t":235.3,"v":-3.56},{"t":237.1,"v":-3.4},{"t":239,"v":-3.86},{"t":240.8,"v":-3.4},{"t":243.6,"v":-3.4},{"t":245.4,"v":-3.33},{"t":247.2,"v":-3.71},{"t":249.1,"v":-4.47},{"t":250.9,"v":-5.39},{"t":252.8,"v":-4.78},{"t":254.6,"v":-4.17},{"t":256.4,"v":-2.95},{"t":258.3,"v":-1.42},{"t":260.1,"v":0.41},{"t":262,"v":1.94},{"t":263.8,"v":2.7},{"t":265.6,"v":2.55},{"t":267.5,"v":1.33},{"t":269.3,"v":-0.35},{"t":271.1,"v":-2.18},{"t":273,"v":-3.56},{"t":274.8,"v":-4.09},{"t":276.7,"v":-4.17},{"t":278.5,"v":-3.25},{"t":280.3,"v":-2.34},{"t":282.2,"v":-2.49},{"t":285,"v":-2.79},{"t":287.7,"v":-3.02},{"t":290.4,"v":-3.1},{"t":293.2,"v":-2.95},{"t":295,"v":-2.64},{"t":296.9,"v":-2.95},{"t":299.6,"v":-2.95},{"t":301.5,"v":-2.34},{"t":304.2,"v":-1.88},{"t":307,"v":-1.57},{"t":308.8,"v":-1.11},{"t":310.7,"v":-1.42},{"t":313.4,"v":-1.88},{"t":316.2,"v":-2.49},{"t":318,"v":-2.95},{"t":319.9,"v":-3.25},{"t":322.6,"v":-3.4},{"t":325.4,"v":-3.71},{"t":328.1,"v":-4.02},{"t":330.9,"v":-4.17},{"t":333.6,"v":-4.4},{"t":336.4,"v":-4.09},{"t":339.2,"v":-3.71},{"t":341.9,"v":-3.79},{"t":344.7,"v":-3.4},{"t":347.4,"v":-2.72},{"t":350.2,"v":-2.03},{"t":352.9,"v":-1.42},{"t":355.7,"v":-1.27},{"t":358.5,"v":-1.04},{"t":361.2,"v":-0.81},{"t":364,"v":-0.5},{"t":366.7,"v":-0.35},{"t":369.5,"v":-0.2},{"t":371.3,"v":-0.81},{"t":374.1,"v":-1.73},{"t":376.8,"v":-2.18},{"t":379.6,"v":-2.64},{"t":382.4,"v":-3.4},{"t":385.1,"v":-4.02},{"t":387.9,"v":-4.63},{"t":390.6,"v":-4.93},{"t":393.4,"v":-5.24},{"t":396.1,"v":-5.54},{"t":398,"v":-5.39},{"t":400.7,"v":-5.24},{"t":403.5,"v":-5.08},{"t":406.2,"v":-4.93},{"t":409,"v":-4.32},{"t":411.8,"v":-3.86},{"t":414.5,"v":-3.56},{"t":417.3,"v":-2.95},{"t":420,"v":-2.64},{"t":422.8,"v":-2.49},{"t":425.6,"v":-2.64},{"t":428.3,"v":-2.95},{"t":431.1,"v":-3.1},{"t":433.8,"v":-3.4},{"t":436.6,"v":-3.71},{"t":438.4,"v":-4.02},{"t":441.2,"v":-4.32},{"t":443.9,"v":-4.78},{"t":446.7,"v":-5.69},{"t":448.5,"v":-6},{"t":450.4,"v":-5.77},{"t":453.1,"v":-4.93},{"t":455,"v":-3.86},{"t":456.8,"v":-2.64},{"t":458.6,"v":-1.42},{"t":460.5,"v":-0.96},{"t":463.2,"v":-0.58},{"t":466,"v":-0.43},{"t":468.8,"v":-0.2},{"t":471.5,"v":-0.05},{"t":474.3,"v":0.41},{"t":477,"v":0.72},{"t":478.9,"v":0.87},{"t":481.6,"v":0.72},{"t":484.4,"v":0.41},{"t":487.1,"v":0.11},{"t":489.9,"v":-0.05},{"t":492.6,"v":-0.66},{"t":495.4,"v":-1.88},{"t":497.2,"v":-2.49},{"t":499.1,"v":-4.02},{"t":501.8,"v":-4.93},{"t":504.6,"v":-5.1},{"t":506.3,"v":-4.3},{"t":507.2,"v":-3.71},{"t":510,"v":-3.86},{"t":512.7,"v":-4.17},{"t":515.5,"v":-5.24},{"t":517.3,"v":-3.86},{"t":519.2,"v":-2.79},{"t":521.9,"v":-2.49},{"t":524.7,"v":-2.95},{"t":527.5,"v":-3.1},{"t":530.3,"v":-2.64},{"t":533,"v":-2.34},{"t":535.8,"v":-2.18},{"t":538.6,"v":-1.42},{"t":541.3,"v":-1.11},{"t":544.1,"v":-1.73},{"t":546.1,"v":-2.64},{"t":547.8,"v":-3.25},{"t":550.6,"v":-3.33},{"t":553.3,"v":-3.48},{"t":556.1,"v":-3.56},{"t":558.9,"v":-3.25},{"t":561.6,"v":-3.02},{"t":564.4,"v":-2.95},{"t":567.2,"v":-2.87},{"t":569.9,"v":-2.64},{"t":572.7,"v":-2.49},{"t":574.6,"v":-2.34},{"t":576.4,"v":-2.64},{"t":579.2,"v":-3.1},{"t":582,"v":-3.56},{"t":583.8,"v":-4.17},{"t":585.6,"v":-5.24},{"t":587.5,"v":-6},{"t":589.3,"v":-6.53},{"t":591.1,"v":-5.69},{"t":593,"v":-4.63},{"t":595.8,"v":-4.63},{"t":598.5,"v":-4.47},{"t":601.3,"v":-4.24},{"t":604.1,"v":-4.02},{"t":606.8,"v":-3.86},{"t":609.6,"v":-3.56},{"t":612.4,"v":-3.71},{"t":615.1,"v":-3.86},{"t":617.9,"v":-4.17},{"t":620.7,"v":-4.4},{"t":623.4,"v":-4.24},{"t":626.2,"v":-4.47},{"t":629,"v":-4.63},{"t":631.7,"v":-4.78},{"t":634.5,"v":-4.4},{"t":637.3,"v":-4.32},{"t":640,"v":-4.47},{"t":642.8,"v":-4.17},{"t":645.6,"v":-4.32},{"t":648.3,"v":-4.47},{"t":651.1,"v":-4.63},{"t":653.9,"v":-4.55},{"t":655.7,"v":-4.93},{"t":657.6,"v":-5.69},{"t":659.4,"v":-6.46},{"t":661.3,"v":-6.99},{"t":663.1,"v":-6.76},{"t":665,"v":-5.69},{"t":666.8,"v":-3.56},{"t":668.6,"v":-1.73},{"t":670.5,"v":-0.5},{"t":672.3,"v":-0.81},{"t":675.1,"v":-1.27},{"t":677.9,"v":-1.34},{"t":680.6,"v":-1.27},{"t":683.4,"v":-1.34},{"t":686.2,"v":-1.27},{"t":688.9,"v":-1.11},{"t":691.7,"v":-0.81},{"t":694.5,"v":-0.5},{"t":697.2,"v":0.11},{"t":700,"v":0.72},{"t":702.8,"v":1.02},{"t":705.5,"v":0.11},{"t":707.4,"v":-0.81},{"t":710.1,"v":-1.73},{"t":712.9,"v":-2.34},{"t":715.7,"v":-2.79},{"t":718.5,"v":-2.95},{"t":721.2,"v":-3.4},{"t":724,"v":-3.86},{"t":726.8,"v":-4.32},{"t":728.6,"v":-4.02},{"t":731.4,"v":-3.71},{"t":733.2,"v":-3.4},{"t":735.1,"v":-3.71},{"t":736.9,"v":-3.83},{"t":740.1,"v":-4.13},{"t":742.7,"v":-2.81},{"t":745.3,"v":-3.73},{"t":747.9,"v":-1.89},{"t":750.4,"v":-1.18},{"t":752.6,"v":-2.1},{"t":754.9,"v":-4.54},{"t":758.5,"v":-4.59},{"t":761.8,"v":-3.01},{"t":764.8,"v":-3.01},{"t":767.7,"v":-1.49},{"t":769.2,"v":-1.18},{"t":771.4,"v":-2.1},{"t":774.3,"v":-2.3},{"t":778,"v":-3.01},{"t":780.2,"v":-3.11},{"t":783.2,"v":-2.1},{"t":786.8,"v":0.34},{"t":789,"v":0.24},{"t":791.2,"v":-0.88},{"t":794.2,"v":-2.1},{"t":797.1,"v":-2.3},{"t":798.6,"v":-2.1},{"t":800.8,"v":-4.13},{"t":803,"v":-6.68},{"t":806.6,"v":-8.71},{"t":809.6,"v":-9.94},{"t":811,"v":-9.63},{"t":812.5,"v":-8.2},{"t":814.7,"v":-7.49},{"t":816.9,"v":-7.49},{"t":818.4,"v":-7.9},{"t":821.3,"v":-7.59},{"t":825,"v":-6.17},{"t":828.7,"v":-6.07},{"t":831.6,"v":-4.95},{"t":835.3,"v":-4.34},{"t":837.5,"v":-3.73},{"t":839.7,"v":-3.32},{"t":842.6,"v":-2.91},{"t":845.5,"v":-2.1},{"t":847.8,"v":-3.11},{"t":850,"v":-4.13},{"t":852,"v":-5.66},{"t":854.6,"v":-5.24},{"t":858.3,"v":-4.93},{"t":862,"v":-4.47},{"t":865.7,"v":-4.47},{"t":869.4,"v":-4.93},{"t":873,"v":-5.08},{"t":876.7,"v":-4.78},{"t":880.4,"v":-3.86},{"t":883.2,"v":-2.79},{"t":885,"v":-3.71},{"t":887.8,"v":-4.47},{"t":893.3,"v":-4.47},{"t":896,"v":-4.63},{"t":898.8,"v":-3.25},{"t":902.5,"v":-3.25},{"t":906.2,"v":-3.1},{"t":909.8,"v":-3.4},{"t":913.5,"v":-3.1},{"t":917.2,"v":-3.56},{"t":920.9,"v":-3.4},{"t":924.6,"v":-3.4},{"t":928.2,"v":-3.25},{"t":931,"v":-2.49},{"t":933.8,"v":-3.86},{"t":935.6,"v":-4.78},{"t":939.3,"v":-4.78},{"t":943,"v":-4.78},{"t":944.8,"v":-4.93},{"t":947.6,"v":-6.61},{"t":950.3,"v":-6.76},{"t":953.1,"v":-6.61},{"t":955.8,"v":-4.47},{"t":957.7,"v":-2.18},{"t":959.5,"v":-0.5},{"t":963.2,"v":-1.42},{"t":966.9,"v":-0.81},{"t":970.6,"v":-0.35},{"t":974.2,"v":-0.81},{"t":977.9,"v":-0.66},{"t":981.6,"v":-0.5},{"t":985.3,"v":-0.05},{"t":989,"v":0.11},{"t":992.6,"v":0.41},{"t":994.5,"v":0.41},{"t":996.3,"v":-0.2},{"t":998.2,"v":-0.35},{"t":1000,"v":-0.35}],
"out": [{"t":23,"v":6.45,"lab":"6.45"},{"t":209.6,"v":-7.25,"lab":"-7.25"},{"t":210.4,"v":-7.94,"lab":"-7.94"},{"t":211.4,"v":-7.15,"lab":"-7.15"},{"t":213,"v":-6.6,"lab":"-6.60"},{"t":745.4,"v":6.87,"lab":"6.87"},{"t":810.3,"v":-6.7,"lab":"-6.70"}],
"emp": [{"t":-7,"v":0.003},{"t":-6.06,"v":0.0044},{"t":-5.35,"v":0.006},{"t":-4.88,"v":0.008},{"t":-4.42,"v":0.013},{"t":-4.09,"v":0.022},{"t":-3.8,"v":0.034},{"t":-3.51,"v":0.052},{"t":-3.22,"v":0.074},{"t":-2.93,"v":0.098},{"t":-2.64,"v":0.121},{"t":-2.35,"v":0.139},{"t":-2.01,"v":0.152},{"t":-1.66,"v":0.161},{"t":-1.31,"v":0.167},{"t":-0.96,"v":0.172},{"t":-0.56,"v":0.174},{"t":-0.27,"v":0.173},{"t":0.08,"v":0.171},{"t":0.54,"v":0.166},{"t":1.12,"v":0.157},{"t":1.47,"v":0.148},{"t":1.7,"v":0.139},{"t":1.94,"v":0.127},{"t":2.17,"v":0.112},{"t":2.4,"v":0.096},{"t":2.63,"v":0.08},{"t":2.86,"v":0.068},{"t":3.15,"v":0.056},{"t":3.44,"v":0.046},{"t":3.79,"v":0.036},{"t":4.14,"v":0.027},{"t":4.6,"v":0.018},{"t":5.06,"v":0.011},{"t":5.53,"v":0.0065},{"t":5.99,"v":0.0035},{"t":6.5,"v":0.002},{"t":7,"v":0.0012}],
"theo": [{"t":-7,"v":0.00044},{"t":-6.5,"v":0.00102},{"t":-6,"v":0.00222},{"t":-5.5,"v":0.00455},{"t":-5,"v":0.00876},{"t":-4.5,"v":0.0159},{"t":-4,"v":0.027},{"t":-3.5,"v":0.0431},{"t":-3.25,"v":0.0533},{"t":-3,"v":0.0648},{"t":-2.75,"v":0.0775},{"t":-2.5,"v":0.0913},{"t":-2.25,"v":0.1059},{"t":-2,"v":0.121},{"t":-1.75,"v":0.136},{"t":-1.5,"v":0.1506},{"t":-1.25,"v":0.1641},{"t":-1,"v":0.176},{"t":-0.75,"v":0.186},{"t":-0.5,"v":0.1934},{"t":-0.25,"v":0.1979},{"t":0,"v":0.1995},{"t":0.25,"v":0.1979},{"t":0.5,"v":0.1934},{"t":0.75,"v":0.186},{"t":1,"v":0.176},{"t":1.25,"v":0.1641},{"t":1.5,"v":0.1506},{"t":1.75,"v":0.136},{"t":2,"v":0.121},{"t":2.25,"v":0.1059},{"t":2.5,"v":0.0913},{"t":2.75,"v":0.0775},{"t":3,"v":0.0648},{"t":3.25,"v":0.0533},{"t":3.5,"v":0.0431},{"t":4,"v":0.027},{"t":4.5,"v":0.0159},{"t":5,"v":0.00876},{"t":5.5,"v":0.00455},{"t":6,"v":0.00222},{"t":6.5,"v":0.00102},{"t":7,"v":0.00044}],
"kf": [{"t":-2,"v":0.024},{"t":-1.83,"v":0.03},{"t":-1.66,"v":0.05},{"t":-1.49,"v":0.08},{"t":-1.33,"v":0.13},{"t":-1.16,"v":0.21},{"t":-0.99,"v":0.33},{"t":-0.83,"v":0.5},{"t":-0.66,"v":0.78},{"t":-0.53,"v":1.09},{"t":-0.43,"v":1.44},{"t":-0.33,"v":1.87},{"t":-0.26,"v":2.23},{"t":-0.2,"v":2.62},{"t":-0.15,"v":2.97},{"t":-0.1,"v":3.33},{"t":-0.05,"v":3.68},{"t":0,"v":3.91},{"t":0.05,"v":3.68},{"t":0.1,"v":3.33},{"t":0.15,"v":2.97},{"t":0.2,"v":2.62},{"t":0.26,"v":2.23},{"t":0.33,"v":1.87},{"t":0.43,"v":1.44},{"t":0.53,"v":1.09},{"t":0.66,"v":0.78},{"t":0.83,"v":0.5},{"t":0.99,"v":0.33},{"t":1.16,"v":0.21},{"t":1.33,"v":0.13},{"t":1.49,"v":0.08},{"t":1.66,"v":0.05},{"t":1.83,"v":0.03},{"t":2,"v":0.024}]
},
"hconcat": [
{
"width": 3060, "height": 2528,
"title": {"text": ["Сводка по анализу выбросов в стационарном гауссовском", "псевдослучайном процессе с КФ экспоненциального типа"], "fontSize": 42, "lineHeight": 86, "anchor": "middle", "offset": 30},
"encoding": {
"x": {"field": "t", "type": "quantitative", "scale": {"domain": [-50, 1050], "nice": false, "zero": false}, "axis": {"values": [0,100,200,300,400,500,600,700,800,900,1000], "format": "d", "title": "временная координата t", "titlePadding": 85}},
"y": {"field": "v", "type": "quantitative", "scale": {"domain": [-12.33, 10.08], "nice": false, "zero": false}, "axis": {"values": [-10,-5,0,5,10], "format": "d", "title": "ординаты процесса ξ", "titlePadding": 26}}
},
"layer": [
{"data": {"name": "proc"}, "mark": {"type": "line", "strokeWidth": 5, "strokeJoin": "round"},
 "encoding": {"color": {"datum": "proc", "type": "nominal",
  "scale": {"domain": ["proc","mean","band","zcl","zmod"], "range": ["#14284b","#dd4a5f","#20a378","#a50b3c","#a50b3c"]},
  "legend": {"title": null, "orient": "none", "legendX": 1148, "legendY": 1885, "direction": "vertical",
   "symbolType": "M-3.92,-0.4L3.92,-0.4L3.92,0.4L-3.92,0.4Z", "symbolSize": 400, "symbolStrokeWidth": 0, "symbolOffset": 21.2,
   "labelFontSize": 36, "labelLimit": 2000, "labelOffset": 66, "rowPadding": 58, "padding": 0,
   "labelExpr": "datum.value === 'proc' ? 'Реализация гауссовского процесса' : datum.value === 'mean' ? 'Скользящее среднее' : datum.value === 'band' ? ['Скользящее станадартное', 'отклонение с коэффициентом 2.5'] : datum.value === 'zcl' ? 'Выбросы по классической Z-оценке' : ['Выбросы по модифицированной', 'устойчивой Z-оценке']",
   "encode": {
    "symbols": {"update": {
     "shape": {"signal": "datum.value === 'zcl' ? 'M-1.28,-2.4L1.28,-2.4L1.28,2.4L-1.28,2.4Z' : datum.value === 'zmod' ? 'M-1.33,0A1.33,2.5,0,1,0,1.33,0A1.33,2.5,0,1,0,-1.33,0Z' : 'M-3.92,-0.4L3.92,-0.4L3.92,0.4L-3.92,0.4Z'"},
     "fill": {"signal": "datum.value === 'proc' ? '#14284b' : datum.value === 'mean' ? '#dd4a5f' : datum.value === 'band' ? '#20a378' : '#a50b3c'"},
     "stroke": {"value": "transparent"},
     "opacity": {"value": 1}
    }},
    "labels": {"update": {"lineHeight": {"value": 81}, "dy": {"signal": "datum.value === 'band' || datum.value === 'zmod' ? -40.5 : 0"}}}
   }
  }
 }}},
{"data": {"name": "mean"}, "mark": {"type": "line", "strokeWidth": 4.5, "interpolate": "monotone"}, "encoding": {"color": {"datum": "mean", "type": "nominal"}}},
{"data": {"name": "up"}, "mark": {"type": "line", "strokeWidth": 5, "strokeJoin": "round"}, "encoding": {"color": {"datum": "band", "type": "nominal"}}},
{"data": {"name": "low"}, "mark": {"type": "line", "strokeWidth": 5, "strokeJoin": "round"}, "encoding": {"color": {"datum": "band", "type": "nominal"}}},
{"data": {"name": "out"}, "mark": {"type": "point", "shape": "M-1.28,-2.4L1.28,-2.4L1.28,2.4L-1.28,2.4Z", "filled": true, "size": 400, "opacity": 1}, "encoding": {"color": {"datum": "zcl", "type": "nominal"}}},
{"data": {"name": "out"}, "mark": {"type": "text", "align": "right", "baseline": "alphabetic", "dx": -12, "fontSize": 36, "color": "#a31546"}, "encoding": {"text": {"field": "lab", "type": "nominal"}}}
]
},
{
"vconcat": [
{
"width": 606, "height": 1045,
"title": {"text": ["Плотность распределения", "ординат процесса"], "fontSize": 34, "lineHeight": 67, "anchor": "middle", "offset": 33},
"encoding": {
"x": {"field": "t", "type": "quantitative", "scale": {"domain": [-7, 7], "nice": false, "zero": false}, "axis": {"values": [-5,0,5], "format": "d", "title": "ординаты ξ", "titlePadding": 83}},
"y": {"field": "v", "type": "quantitative", "scale": {"domain": [-0.0101, 0.2097], "nice": false, "zero": false}, "axis": {"values": [0,0.05,0.1,0.15,0.2], "format": ".2f", "title": "f(ξ)", "titlePadding": 22}}
},
"layer": [
{"data": {"name": "emp"}, "mark": {"type": "line", "strokeWidth": 4, "interpolate": "monotone", "clip": true},
 "encoding": {"color": {"datum": "emp", "type": "nominal",
  "scale": {"domain": ["emp","theo"], "range": ["#14284b","#dd4a5f"]},
  "legend": {"title": null, "orient": "none", "legendX": 30, "legendY": 836, "direction": "vertical",
   "symbolType": "M-3.65,-0.4L3.65,-0.4L3.65,0.4L-3.65,0.4Z", "symbolSize": 400, "symbolStrokeWidth": 0, "symbolOffset": 18.5,
   "labelFontSize": 36, "labelLimit": 2000, "labelOffset": 62, "rowPadding": 58, "padding": 0,
   "labelExpr": "datum.value === 'emp' ? 'Эмпирическая' : 'Теоретическая'",
   "encode": {"symbols": {"update": {
     "fill": {"signal": "datum.value === 'emp' ? '#14284b' : '#dd4a5f'"},
     "stroke": {"value": "transparent"},
     "opacity": {"value": 1}}}}}}}},
{"data": {"name": "theo"}, "mark": {"type": "line", "strokeWidth": 4, "interpolate": "monotone", "clip": true}, "encoding": {"color": {"datum": "theo", "type": "nominal"}}}
]
},
{
"width": 606, "height": 1044,
"title": {"text": "КФ экспоненциального типа", "fontSize": 34, "anchor": "middle", "offset": 29},
"data": {"name": "kf"},
"mark": {"type": "line", "strokeWidth": 4, "color": "#dd4a5f"},
"encoding": {
"x": {"field": "t", "type": "quantitative", "scale": {"domain": [-2, 2], "nice": false, "zero": false}, "axis": {"values": [-2,-1,0,1,2], "format": "d", "title": "сдвиг τ", "titlePadding": 77}},
"y": {"field": "v", "type": "quantitative", "scale": {"domain": [-0.15, 4.12], "nice": false, "zero": false}, "axis": {"values": [0,1,2,3,4], "format": "d", "title": "Kξ(τ)", "titlePadding": 33}}
}
}
],
"spacing": 437,
"bounds": "flush",
"resolve": {"scale": {"color": "independent"}}
}
]
}
